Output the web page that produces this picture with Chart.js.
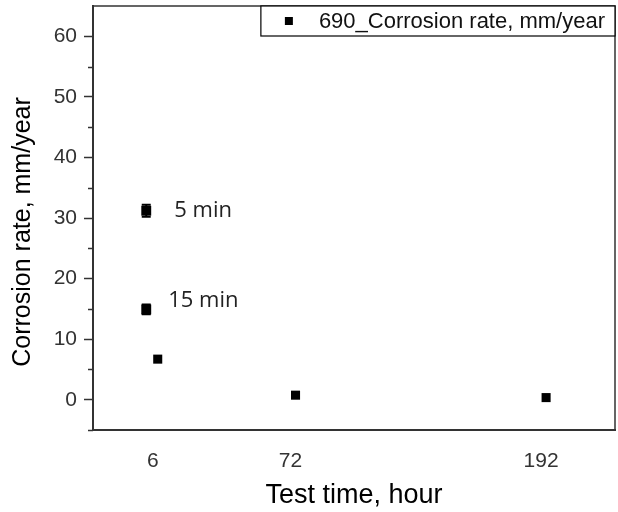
<!DOCTYPE html>
<html><head><meta charset="utf-8">
<script src="https://cdn.jsdelivr.net/npm/chart.js@4/dist/chart.umd.min.js"></script>
<style>html,body{margin:0;padding:0;background:#fff}#wrap{width:618px;height:512px}</style>
</head><body><div id="wrap"><canvas id="c" width="618" height="512"></canvas></div>
<script>
// ---- data ----
const seriesLabel = '690_Corrosion rate, mm/year';
const testHours = [0.5, 0.5, 6, 72, 192];
const corrosionRate = [31.2, 14.9, 6.7, 0.75, 0.35];
const rateError = [1.0, 0.8, 0, 0, 0];
const pointNotes = ['5 min', '15 min', '', '', ''];
const xTickValues = [6, 72, 192];
const yMajorTicks = [0, 10, 20, 30, 40, 50, 60];
const yMinorTicks = [-5, 5, 15, 25, 35, 45, 55];
const xTitle = 'Test time, hour';
const yTitle = 'Corrosion rate, mm/year';

const AX = '#333';
const TICK_FONT = {family: '"Liberation Sans", Arial, sans-serif', size: 21};
const noteOffsets = [[28, 0], [22, -9], [0, 0], [0, 0], [0, 0]];

const extras = {
  id: 'extras',
  beforeDatasetsDraw(chart) {
    const {ctx, chartArea: a, scales: {x, y}} = chart;
    ctx.save();
    ctx.strokeStyle = AX; ctx.lineWidth = 1.5;
    ctx.beginPath();
    ctx.moveTo(a.left, a.top); ctx.lineTo(a.right, a.top); ctx.lineTo(a.right, a.bottom);
    ctx.stroke();
    yMinorTicks.forEach(v => {
      const py = Math.round(y.getPixelForValue(v)) + 0.5;
      ctx.beginPath(); ctx.moveTo(a.left - 5, py); ctx.lineTo(a.left, py); ctx.stroke();
    });
    ctx.strokeStyle = '#000'; ctx.lineWidth = 2;
    testHours.forEach((h, i) => {
      const e = rateError[i];
      if (!e) return;
      const px = x.getPixelForValue(h);
      const y1 = y.getPixelForValue(corrosionRate[i] + e);
      const y2 = y.getPixelForValue(corrosionRate[i] - e);
      ctx.beginPath();
      ctx.moveTo(px, y1); ctx.lineTo(px, y2);
      ctx.moveTo(px - 4.5, y1); ctx.lineTo(px + 4.5, y1);
      ctx.moveTo(px - 4.5, y2); ctx.lineTo(px + 4.5, y2);
      ctx.stroke();
    });
    ctx.restore();
  },
  afterDraw(chart) {
    const {ctx, chartArea: a, scales: {x, y}} = chart;
    ctx.save();
    // y axis title
    ctx.save();
    ctx.font = '25px "Liberation Sans", Arial, sans-serif';
    ctx.fillStyle = '#000';
    ctx.textAlign = 'center';
    ctx.textBaseline = 'middle';
    ctx.translate(23, (a.top + a.bottom) / 2 + 14);
    ctx.rotate(-Math.PI / 2);
    ctx.fillText(yTitle, 0, 0);
    ctx.restore();
    // point notes
    ctx.font = '22px "Open Sans", sans-serif';
    ctx.fillStyle = '#222';
    ctx.textBaseline = 'middle';
    ctx.textAlign = 'left';
    pointNotes.forEach((t, i) => {
      if (!t) return;
      const px = x.getPixelForValue(testHours[i]);
      const py = y.getPixelForValue(corrosionRate[i]);
      ctx.fillText(t, px + noteOffsets[i][0], py + noteOffsets[i][1]);
    });
    // legend
    ctx.font = '22px "Liberation Sans", Arial, sans-serif';
    const tw = ctx.measureText(seriesLabel).width;
    const boxR = a.right, boxT = a.top, boxH = 30;
    const textR = boxR - 10;
    const textL = textR - tw;
    const mX = textL - 30;
    const boxL = mX - 28;
    ctx.fillStyle = '#fff';
    ctx.fillRect(boxL, boxT, boxR - boxL, boxH);
    ctx.strokeStyle = '#000'; ctx.lineWidth = 1.2;
    ctx.strokeRect(boxL, boxT, boxR - boxL, boxH);
    ctx.fillStyle = '#000';
    ctx.fillRect(mX - 4, boxT + boxH / 2 - 4, 8, 8);
    ctx.fillStyle = '#111';
    ctx.textBaseline = 'middle';
    ctx.fillText(seriesLabel, textL, boxT + boxH / 2 + 1);
    ctx.restore();
  }
};

new Chart(document.getElementById('c'), {
  type: 'scatter',
  data: {
    datasets: [{
      label: seriesLabel,
      data: testHours.map((h, i) => ({x: h, y: corrosionRate[i]})),
      pointStyle: 'rect',
      pointRadius: [7, 7, 6.4, 6.4, 6.4],
      pointHoverRadius: [7, 7, 6.4, 6.4, 6.4],
      backgroundColor: '#000',
      borderColor: '#000',
      borderWidth: 0
    }]
  },
  options: {
    responsive: false,
    devicePixelRatio: 1,
    animation: false,
    layout: {autoPadding: false, padding: {top: 6, right: 3, left: 0, bottom: 0}},
    plugins: {legend: {display: false}, tooltip: {enabled: false}},
    scales: {
      x: {
        type: 'linear', min: -25, max: 225,
        afterBuildTicks: s => { s.ticks = xTickValues.map(v => ({value: v})); },
        afterFit: s => { s.height = 82; s.paddingLeft = 0; s.paddingRight = 0; },
        ticks: {font: TICK_FONT, color: AX, padding: 19, labelOffset: -5, autoSkip: false, maxRotation: 0},
        grid: {drawOnChartArea: false, drawTicks: false},
        border: {color: AX, width: 2},
        title: {display: true, text: xTitle, font: {family: '"Liberation Sans", Arial, sans-serif', size: 27}, color: '#000', padding: {top: 0, bottom: 0}}
      },
      y: {
        type: 'linear', min: -5, max: 65,
        afterBuildTicks: s => { s.ticks = yMajorTicks.map(v => ({value: v})); },
        afterFit: s => { s.width = 93; s.paddingTop = 0; s.paddingBottom = 0; },
        ticks: {font: TICK_FONT, color: AX, padding: 7},
        grid: {drawOnChartArea: false, drawTicks: true, tickLength: 9, tickColor: AX, tickWidth: 1.5},
        border: {color: AX, width: 2},
        title: {display: false}
      }
    }
  },
  plugins: [extras]
});
</script>
</body></html>
